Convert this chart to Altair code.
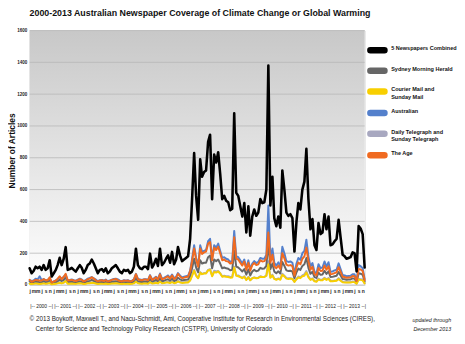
import altair as alt
import pandas as pd

# ---------------- data (monthly article counts, Jan 2000 - Dec 2013) ----------------
months = [d.strftime("%Y-%m-%d") for d in pd.date_range("2000-01-01", periods=168, freq="MS")]

combined = [
    105, 74, 88, 115, 105, 115, 95, 125, 95, 105, 156, 53,
    74, 95, 125, 171, 125, 165, 238, 95, 100, 108, 95, 84,
    105, 125, 108, 74, 95, 125, 135, 160, 135, 105, 74, 95,
    100, 84, 105, 74, 84, 105, 115, 125, 105, 84, 74, 95,
    88, 95, 74, 84, 115, 228, 125, 105, 100, 115, 115, 100,
    197, 110, 130, 165, 120, 228, 125, 140, 165, 186, 140, 208,
    130, 160, 239, 186, 150, 160, 170, 180, 290, 540, 830, 560,
    410, 790, 680, 710, 720, 900, 945, 540, 820, 770, 835, 700,
    540, 560, 530, 520, 470, 480, 1080, 580, 560, 495, 430, 515,
    330, 495, 310, 430, 475, 435, 455, 540, 515, 520, 600, 1380,
    500, 680, 420, 370, 430, 360, 720, 600, 455, 435, 445, 420,
    210, 400, 515, 475, 600, 650, 856, 540, 350, 415, 250, 220,
    390, 320, 330, 445, 350, 430, 250, 255, 275, 290, 410, 300,
    190, 180, 165, 170, 175, 205, 200, 85, 370, 355, 320, 110,
]

australian = [
    30, 25, 28, 40, 35, 55, 30, 38, 28, 32, 45, 18,
    22, 30, 38, 50, 40, 52, 65, 30, 32, 35, 30, 26,
    34, 40, 35, 24, 30, 40, 44, 50, 42, 34, 24, 30,
    32, 28, 34, 24, 28, 34, 38, 40, 35, 27, 24, 30,
    28, 30, 24, 27, 36, 70, 40, 34, 32, 36, 36, 32,
    62, 35, 42, 52, 38, 72, 40, 45, 52, 60, 45, 66,
    42, 52, 75, 60, 48, 52, 55, 58, 90, 165, 250, 170,
    125, 250, 210, 215, 220, 275, 290, 165, 250, 235, 260, 215,
    170, 175, 165, 160, 145, 150, 340, 180, 175, 155, 135, 160,
    105, 155, 100, 135, 150, 138, 145, 170, 165, 165, 190, 500,
    165, 230, 140, 122, 142, 118, 240, 200, 150, 145, 148, 140,
    70, 135, 170, 158, 200, 215, 285, 180, 116, 138, 83, 72,
    130, 106, 110, 148, 116, 143, 83, 85, 92, 96, 136, 100,
    63, 60, 55, 57, 58, 68, 67, 28, 125, 118, 105, 37,
]

the_age = [
    32, 20, 25, 32, 30, 28, 28, 36, 30, 30, 48, 15,
    22, 28, 38, 55, 36, 50, 70, 28, 30, 32, 28, 25,
    30, 36, 32, 22, 28, 36, 40, 48, 40, 30, 22, 28,
    30, 25, 31, 22, 25, 32, 34, 38, 31, 25, 22, 28,
    26, 28, 22, 25, 34, 68, 36, 31, 30, 34, 34, 30,
    58, 32, 38, 48, 35, 66, 36, 40, 48, 54, 40, 60,
    38, 46, 70, 54, 44, 46, 50, 52, 85, 150, 230, 160,
    115, 230, 195, 205, 210, 260, 270, 155, 235, 220, 240, 200,
    155, 160, 150, 148, 135, 138, 300, 165, 160, 140, 122, 148,
    95, 140, 90, 125, 138, 125, 130, 155, 148, 150, 172, 330,
    140, 190, 118, 105, 122, 100, 200, 168, 128, 122, 125, 118,
    58, 110, 142, 130, 165, 180, 235, 150, 96, 114, 68, 60,
    107, 88, 90, 122, 96, 118, 68, 70, 75, 80, 112, 82,
    52, 50, 45, 47, 48, 56, 55, 24, 100, 98, 88, 30,
]

smh = [
    22, 15, 18, 22, 20, 18, 18, 25, 18, 22, 32, 10,
    15, 18, 24, 34, 25, 32, 50, 18, 20, 20, 18, 16,
    20, 24, 20, 14, 18, 24, 26, 32, 26, 20, 14, 18,
    19, 16, 20, 14, 16, 20, 22, 24, 20, 16, 14, 18,
    17, 18, 14, 16, 22, 45, 24, 20, 19, 22, 22, 19,
    38, 21, 25, 32, 23, 44, 24, 27, 32, 36, 27, 40,
    25, 31, 46, 36, 29, 31, 33, 35, 56, 105, 165, 110,
    80, 155, 135, 140, 140, 175, 185, 105, 160, 150, 160, 135,
    105, 110, 105, 102, 92, 95, 215, 115, 110, 98, 85, 100,
    65, 98, 60, 85, 95, 86, 90, 108, 102, 104, 120, 270,
    100, 135, 84, 74, 86, 72, 145, 120, 92, 88, 90, 84,
    42, 80, 103, 95, 120, 130, 170, 108, 70, 83, 50, 44,
    78, 64, 66, 89, 70, 86, 50, 51, 55, 58, 82, 60,
    38, 36, 33, 34, 35, 41, 40, 17, 74, 71, 64, 22,
]

courier = [
    8, 6, 7, 10, 8, 6, 8, 10, 8, 9, 12, 4,
    6, 8, 10, 14, 10, 14, 25, 8, 8, 9, 8, 7,
    9, 11, 9, 6, 8, 11, 11, 14, 12, 9, 6, 8,
    8, 7, 9, 6, 7, 9, 10, 11, 9, 7, 6, 8,
    7, 8, 6, 7, 10, 20, 11, 9, 8, 10, 10, 8,
    17, 10, 11, 14, 10, 20, 11, 12, 15, 16, 12, 18,
    11, 14, 22, 16, 13, 14, 15, 16, 28, 58, 90, 58,
    42, 78, 68, 72, 72, 92, 96, 55, 82, 78, 85, 72,
    52, 55, 52, 50, 46, 47, 110, 58, 55, 50, 43, 52,
    32, 48, 30, 42, 46, 42, 44, 52, 50, 50, 58, 130,
    45, 60, 38, 33, 38, 33, 64, 54, 40, 38, 40, 38,
    19, 36, 47, 43, 55, 58, 78, 48, 32, 38, 23, 20,
    35, 29, 30, 40, 32, 39, 23, 23, 25, 26, 37, 27,
    17, 16, 15, 15, 16, 18, 18, 8, 34, 32, 29, 10,
]

telegraph = [
    10, 8, 9, 11, 12, 8, 10, 14, 10, 11, 18, 6,
    8, 10, 14, 18, 14, 17, 28, 11, 10, 12, 11, 10,
    12, 14, 12, 8, 11, 14, 14, 16, 15, 12, 8, 11,
    11, 9, 11, 8, 9, 11, 12, 13, 11, 9, 8, 11,
    10, 11, 8, 9, 13, 25, 14, 11, 11, 13, 13, 11,
    22, 12, 14, 19, 14, 26, 14, 16, 18, 20, 16, 24,
    14, 17, 26, 20, 16, 17, 17, 19, 31, 62, 95, 62,
    45, 80, 70, 75, 75, 95, 100, 58, 90, 85, 88, 75,
    55, 58, 55, 55, 50, 50, 115, 62, 60, 52, 45, 55,
    33, 52, 30, 43, 48, 44, 46, 55, 50, 51, 60, 150,
    50, 65, 40, 36, 42, 37, 71, 58, 45, 42, 42, 40,
    21, 39, 53, 49, 60, 67, 88, 54, 36, 42, 26, 24,
    40, 33, 34, 46, 36, 44, 26, 26, 28, 30, 43, 31,
    20, 18, 17, 17, 18, 22, 20, 8, 37, 36, 34, 11,
]

series_names = [
    "5 Newspapers Combined",
    "Sydney Morning Herald",
    "Courier Mail and|Sunday Mail",
    "Australian",
    "Daily Telegraph and|Sunday Telegraph",
    "The Age",
]
series_colors = ["#000000", "#666666", "#f8cf00", "#5480cc", "#a8a8c0", "#f06a20"]
series_values = [combined, smh, courier, australian, telegraph, the_age]
draw_order = [4, 1, 2, 3, 5, 0]  # indices into series_names, bottom to top

y_ticks = [0, 200, 400, 600, 800, 1000, 1200, 1400, 1600]
years = list(range(2000, 2014))

title_text = "2000-2013 Australian Newspaper Coverage of Climate Change or Global Warming"
footer_1 = ("\u00a9 2013 Boykoff, Maxwell T., and Nacu-Schmidt, Ami, Cooperative Institute "
            "for Research in Environmental Sciences (CIRES),")
footer_2 = "Center for Science and Technology Policy Research (CSTPR), University of Colorado"
updated_1 = "updated through"
updated_2 = "December 2013"

# ---------------- build table ----------------
rows = []
for name, vals in zip(series_names, series_values):
    for m, v in zip(months, vals):
        rows.append({"month": m, "articles": v, "series": name})
df = pd.DataFrame(rows)

W, H = 341, 259
SANS = "Liberation Sans, Arial, sans-serif"

pill = "M-0.8,-0.17 L0.8,-0.17 A0.17,0.17 0 0 1 0.8,0.17 L-0.8,0.17 A0.17,0.17 0 0 1 -0.8,-0.17 Z"

color_scale = alt.Scale(domain=series_names, range=series_colors)
x_scale = alt.Scale(nice=False, padding=0)
y_scale = alt.Scale(domain=[0, 1600], nice=False)

x_axis = alt.Axis(
    title=None, grid=False, domain=False, ticks=False,
    tickCount=alt.TimeIntervalStep(interval="month", step=2),
    labelExpr="lower(substring(timeFormat(datum.value, '%b'), 0, 1))",
    labelFontSize=5, labelFont=SANS, labelFontWeight="bold", labelColor="#222",
    labelPadding=4, labelOverlap=False, labelFlush=False, labelBound=False,
)
y_axis = alt.Axis(
    values=y_ticks, format="d", grid=False, domain=False, ticks=False,
    labelFontSize=4.6, labelFont=SANS, labelFontWeight="bold", labelColor="#222",
    labelPadding=3, title="Number of Articles", titleFont=SANS, titleFontSize=8.6,
    titleFontWeight="bold", titleColor="#111", titlePadding=0, titleY=122,
)

legend = alt.Legend(
    title=None, orient="none", legendX=343, legendY=9,
    symbolType=pill, symbolSize=324, symbolStrokeWidth=3.5,
    labelFont=SANS, labelFontSize=5.6, labelFontWeight="bold", labelColor="#111",
    labelExpr="split(datum.label, '|')", labelOffset=3, rowPadding=1,
    labelBaseline="alphabetic", labelLimit=200,
)

# background gradient
bg = alt.Chart(pd.DataFrame({"k": [0]})).mark_rect(
    color=alt.Gradient(
        gradient="linear",
        stops=[alt.GradientStop(color="#c8c8c8", offset=0),
               alt.GradientStop(color="#ffffff", offset=1)],
        x1=0, x2=0, y1=0, y2=1,
    )
).encode(x=alt.value(0), x2=alt.value(W), y=alt.value(0), y2=alt.value(H))

grid = alt.Chart(pd.DataFrame({"v": y_ticks})).mark_rule(
    color="#b8b8b8", strokeWidth=0.8
).encode(y=alt.Y("v:Q", scale=y_scale, axis=y_axis))

layers = [bg, grid]
for idx in draw_order:
    name = series_names[idx]
    lw = 2.6 if idx == 0 else 2.0
    layers.append(
        alt.Chart(df).transform_filter(alt.datum.series == name).mark_line(
            strokeWidth=lw, strokeJoin="round", strokeCap="round"
        ).encode(
            x=alt.X("month:T", scale=x_scale, axis=x_axis),
            y=alt.Y("articles:Q", scale=y_scale, axis=y_axis),
            color=alt.Color("series:N", scale=color_scale, legend=legend),
        )
    )

year_text = alt.Chart(pd.DataFrame({"year": years})).transform_calculate(
    mid="datetime(datum.year, 6, 1)",
    lbl="'|-- ' + datum.year + ' --|'",
).mark_text(font=SANS, fontSize=5, color="#222", baseline="middle").encode(
    x=alt.X("mid:T", scale=x_scale, axis=x_axis), y=alt.value(H + 21), text="lbl:N"
)
layers.append(year_text)

def note(txt, x, y, size, style="normal", align="left", weight="normal"):
    return alt.Chart(pd.DataFrame({"t": [txt]})).mark_text(
        font=SANS, fontSize=size, fontStyle=style, align=align, baseline="middle",
        color="#222", fontWeight=weight,
    ).encode(x=alt.value(x), y=alt.value(y), text="t:N")

layers += [
    note(footer_1, 0, H + 35, 6.4),
    note(footer_2, 6, H + 45, 6.4),
    note(updated_1, 429, H + 36, 5.4, style="italic", align="right"),
    note(updated_2, 429, H + 45, 5.4, style="italic", align="right"),
]

chart = alt.layer(*layers).properties(
    width=W, height=H,
    title=alt.TitleParams(text=title_text, anchor="start", frame="group", font=SANS,
                          fontSize=9, fontWeight="bold", color="#111", offset=10),
    padding={"left": 22, "top": 20, "right": 94, "bottom": 49},
    autosize=alt.AutoSizeParams(type="none"),
).configure_view(stroke=None).configure(background="white")

chart.save("out.html", embed_options={"renderer": "svg", "actions": False})
